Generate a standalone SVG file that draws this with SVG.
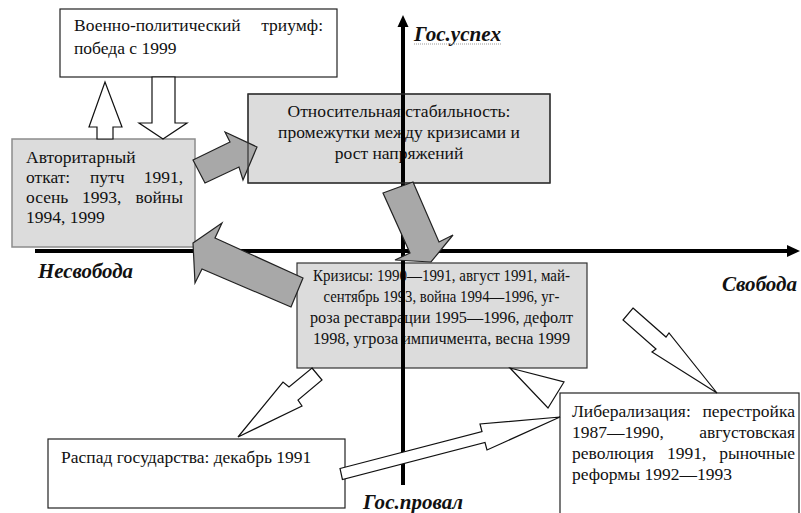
<svg xmlns="http://www.w3.org/2000/svg" width="801" height="513" viewBox="0 0 801 513" font-family="Liberation Serif, Times New Roman, serif">
<style>
.t{font-size:17.5px;fill:#111}
.lab{font-size:20px;font-weight:bold;font-style:italic;fill:#111}
.wbox{fill:#fff;stroke:#222;stroke-width:1.2}
.gbox{fill:#dcdcdc;stroke:#333;stroke-width:1.2}
.harrow{fill:#fff;stroke:#111;stroke-width:1.2;stroke-linejoin:miter}
.garrow{fill:#a8a8a8;stroke:#222;stroke-width:1.2}
.axis{stroke:#000;stroke-width:4;fill:none}
</style>
<rect width="801" height="513" fill="#fff"/>

<g id="n-triumph">
<rect class="wbox" x="60" y="9" width="277" height="68"/>
<text class="t" x="74" y="31">Военно-политический</text>
<text class="t" x="323" y="31" text-anchor="end">триумф:</text>
<text class="t" x="74" y="54">победа с 1999</text>
</g>

<g id="n-authoritarian">
<rect class="gbox" x="12" y="139" width="183" height="108" style="stroke:#8c8c8c;stroke-width:1.5"/>
<text class="t" x="26" y="163">Авторитарный</text>
<text class="t" x="26" y="183">откат:</text>
<text class="t" x="90" y="183">путч</text>
<text class="t" x="183" y="183" text-anchor="end">1991,</text>
<text class="t" x="26" y="203">осень</text>
<text class="t" x="82" y="203">1993,</text>
<text class="t" x="183" y="203" text-anchor="end">войны</text>
<text class="t" x="26" y="223">1994, 1999</text>
</g>

<g id="n-stability">
<rect class="gbox" x="248" y="94" width="302" height="89"/>
<text class="t" x="399" y="117" text-anchor="middle">Относительная стабильность:</text>
<text class="t" x="399" y="138" text-anchor="middle">промежутки между кризисами и</text>
<text class="t" x="399" y="159" text-anchor="middle">рост напряжений</text>
</g>

<g id="n-crises">
<rect class="gbox" x="297" y="263" width="290" height="105"/>
<text class="t" x="441.5" y="281" text-anchor="middle" textLength="257" lengthAdjust="spacingAndGlyphs">Кризисы: 1990—1991, август 1991, май-</text>
<text class="t" x="441.5" y="302" text-anchor="middle" textLength="236" lengthAdjust="spacingAndGlyphs">сентябрь 1993, война 1994—1996, уг-</text>
<text class="t" x="441.5" y="323" text-anchor="middle" textLength="263" lengthAdjust="spacingAndGlyphs">роза реставрации 1995—1996, дефолт</text>
<text class="t" x="441.5" y="344" text-anchor="middle" textLength="257" lengthAdjust="spacingAndGlyphs">1998, угроза импичмента, весна 1999</text>
</g>

<g id="n-collapse">
<rect class="wbox" x="48" y="439" width="297" height="69"/>
<text class="t" x="61" y="463">Распад государства: декабрь 1991</text>
</g>

<g id="n-liberalization">
<rect class="wbox" x="560" y="393" width="239" height="140"/>
<text class="t" x="572" y="417">Либерализация:</text>
<text class="t" x="795" y="417" text-anchor="end">перестройка</text>
<text class="t" x="572" y="438">1987—1990,</text>
<text class="t" x="795" y="438" text-anchor="end">августовская</text>
<text class="t" x="572" y="459">революция</text>
<text class="t" x="667" y="459">1991,</text>
<text class="t" x="795" y="459" text-anchor="end">рыночные</text>
<text class="t" x="572" y="480">реформы 1992—1993</text>
</g>

<g id="axes">
<line class="axis" x1="35" y1="251" x2="788" y2="251"/>
<polygon points="787,245 800,251 787,257" fill="#000"/>
<line class="axis" x1="403" y1="485" x2="403" y2="26"/>
<polygon points="397.5,27 403,15 408.5,27" fill="#000"/>
<text class="lab" x="414" y="41" textLength="87" lengthAdjust="spacingAndGlyphs">Гос.успех</text>
<line x1="414" y1="44" x2="501" y2="44" stroke="#999" stroke-width="1" stroke-dasharray="1,1"/>
<text class="lab" x="38" y="278" textLength="95" lengthAdjust="spacingAndGlyphs">Несвобода</text>
<text class="lab" x="722" y="291" textLength="75" lengthAdjust="spacingAndGlyphs">Свобода</text>
<text class="lab" x="363" y="509" textLength="100" lengthAdjust="spacingAndGlyphs">Гос.провал</text>
</g>

<g id="connectors">
<polygon class="harrow" points="97,139 97,127 89,127 105,82 122,127 113,127 113,139"/>
<polygon class="harrow" points="152,77 175,77 175,123 187,123 163,139 139,123 152,123"/>
<polygon class="garrow" points="193,160 230,142 225,132 257,147 243,180 239,167 205,183"/>
<rect x="248" y="94" width="302" height="89" fill="none" stroke="#333" stroke-width="1.2"/>
<polygon class="garrow" points="193,243 222,223 215,238 303,278 291,307 202,269 195,283"/>
<polygon class="garrow" points="383,193 413,182 439,242 453,235 431,262 395,260 410,253"/>
<polygon class="harrow" points="312,368 322,380 298,400 302,406 238,437 283,382 289,387"/>
<polygon class="harrow" points="633,308 666,337 669,333 717,393 652,352 656,349 623,320"/>
<polygon class="harrow" points="510,368 564,382 548,408"/>
<polygon class="harrow" points="340,468.5 482,431.5 480,424 560,417 487,450 485,442.5 342.4,479.5"/>
</g>
</svg>
